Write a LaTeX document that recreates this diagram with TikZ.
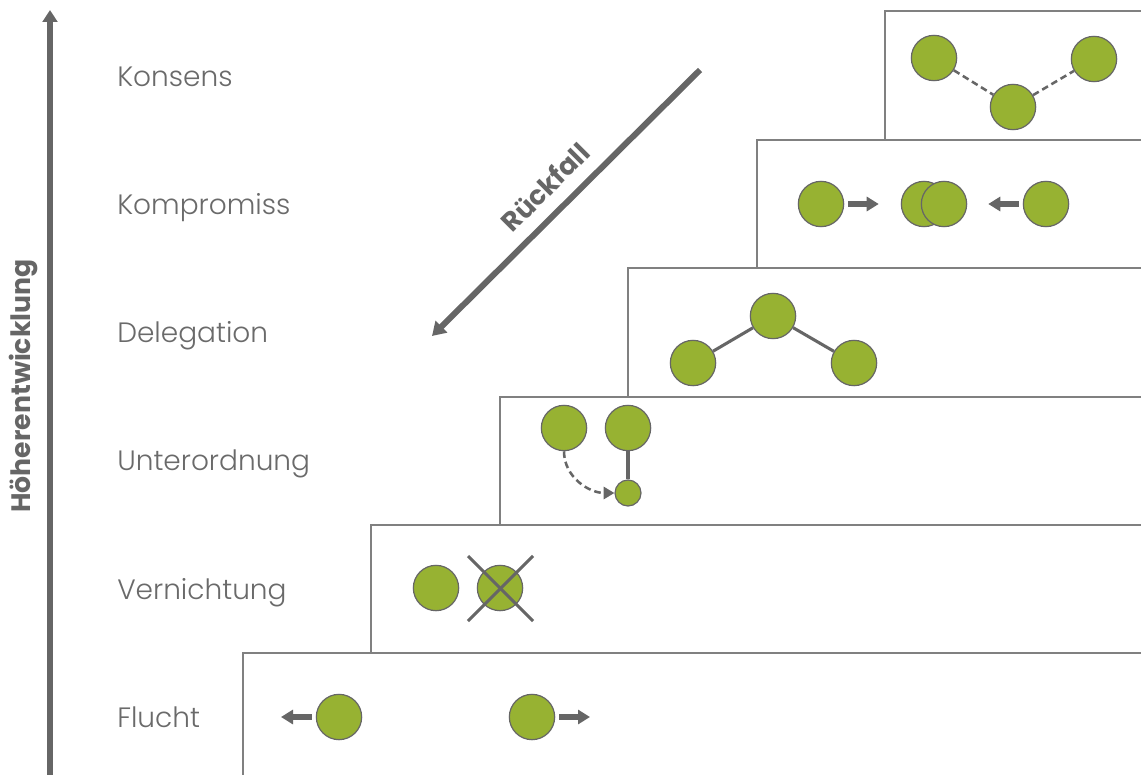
\documentclass[tikz,border=0pt]{standalone}
\usepackage{fontspec}
\setmainfont{Poppins}
\newfontfamily\lightfont{Poppins Light}
\usetikzlibrary{arrows.meta,calc}
\definecolor{grn}{HTML}{97B232}
\definecolor{gline}{HTML}{808080}
\definecolor{gdark}{HTML}{666666}
\definecolor{gtext}{HTML}{6A6A6A}
\begin{document}
\begin{tikzpicture}[x=0.75pt,y=-0.75pt,
  stepbox/.style={draw=gline,line width=1.5pt,fill=white},
  actor/.style={circle,draw=gdark,line width=0.9pt,fill=grn,minimum size=34pt,inner sep=0pt},
  smallactor/.style={actor,minimum size=19.5pt},
  lvl/.style={anchor=base west,text=gtext,font=\lightfont\fontsize{21}{25}\selectfont,inner sep=0pt},
  boldlbl/.style={text=gdark,font=\fontsize{20}{24}\selectfont\bfseries,inner sep=0pt},
  link/.style={draw=gdark,line width=2.3pt},
  dlink/.style={draw=gdark,line width=1.9pt,dash pattern=on 5pt off 3pt},
  blockarrow/.style={draw=gdark,line width=5.2pt,-{Triangle[length=9pt,width=10.5pt]}},
  bigarrow/.style={draw=gdark,line width=5pt,-{Triangle[length=9pt,width=11pt]}},
]
\useasboundingbox (0,0) rectangle (1141,774);
\clip (0,0) rectangle (1141,774);

% steps
\path[stepbox] (885,11) rectangle (1160,800);
\path[stepbox] (757,139.5) rectangle (1160,800);
\path[stepbox] (628,268) rectangle (1160,800);
\path[stepbox] (500,396.5) rectangle (1160,800);
\path[stepbox] (371,524.5) rectangle (1160,800);
\path[stepbox] (243,653) rectangle (1160,800);

% axis
\coordinate (axb) at (50,790);
\coordinate (axt) at (50,10);
\draw[bigarrow] (axb) -- (axt);
\node[boldlbl,rotate=90] (axl) at (23,386) {Höherentwicklung};

% level labels
\node[lvl] (lk) at (117,86) {Konsens};
\node[lvl] (lp) at (117,214.3) {Kompromiss};
\node[lvl] (ld) at (117,342.6) {Delegation};
\node[lvl] (lu) at (117,470.9) {Unterordnung};
\node[lvl] (lv) at (117,599.2) {Vernichtung};
\node[lvl] (lf) at (117,727.5) {Flucht};

% Rueckfall
\coordinate (rs) at (700,70);
\coordinate (re) at (432,336);
\draw[draw=gdark,line width=4.5pt,-{Triangle[length=10pt,width=12pt]}] (rs) -- (re);
\node[boldlbl,rotate=45] (rl) at (545,187) {Rückfall};

% Konsens
\node[actor] (k1) at (934,58) {};
\node[actor] (k2) at (1013,107) {};
\node[actor] (k3) at (1094,59) {};
\draw[dlink] (k1) -- (k2);
\draw[dlink] (k2) -- (k3);

% Kompromiss
\node[actor] (p1) at (821,204) {};
\node[actor] (p2) at (924,204) {};
\node[actor] (p3) at (944,204) {};
\node[actor] (p4) at (1046,204) {};
\draw[blockarrow,shorten <=3pt,shorten >=16.5pt] (p1) -- (p2);
\draw[blockarrow,shorten <=3pt,shorten >=15.75pt] (p4) -- (p3);

% Delegation
\node[actor] (d1) at (693,363) {};
\node[actor] (d2) at (773,316) {};
\node[actor] (d3) at (854,363) {};
\draw[link] (d1) -- (d2);
\draw[link] (d2) -- (d3);

% Unterordnung
\node[actor] (u1) at (564,428) {};
\node[actor] (u2) at (628,428) {};
\node[smallactor] (u3) at (628,493) {};
\draw[link] (u2) -- (u3);
\draw[dlink,-{Triangle[length=8pt,width=9pt]}] (u1.south) to[out=-90,in=180] (u3.west);

% Vernichtung
\node[actor] (v1) at (436,588) {};
\node[actor] (v2) at (500,588) {};
\draw[link] ($(v2)+(-32,-32)$) -- ($(v2)+(33,33)$);
\draw[link] ($(v2)+(33,-32)$) -- ($(v2)+(-32,33)$);

% Flucht
\node[actor] (f1) at (339,717) {};
\node[actor] (f2) at (532,717) {};
\coordinate (ft1) at (281,717);
\coordinate (ft2) at (590,717);
\draw[blockarrow,shorten <=3pt] (f1) -- (ft1);
\draw[blockarrow,shorten <=3pt] (f2) -- (ft2);
\end{tikzpicture}
\end{document}
